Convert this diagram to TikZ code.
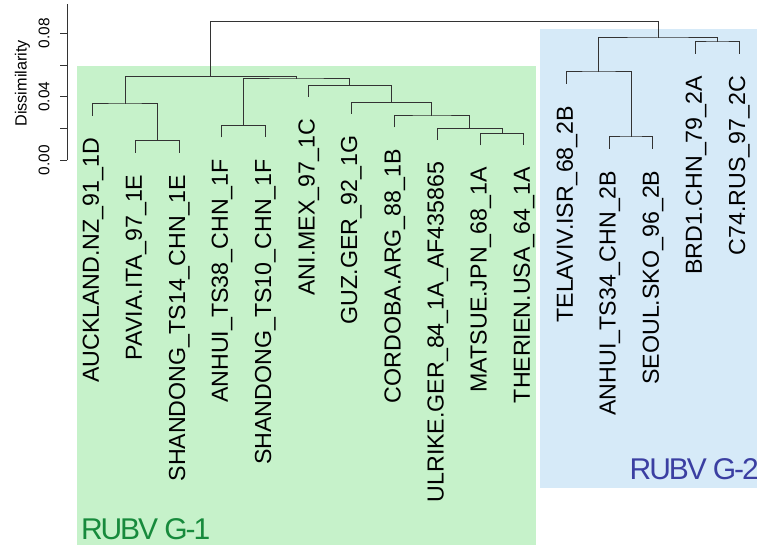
\documentclass[tikz,border=0pt]{standalone}
\usepackage{fontspec}
\setmainfont{Liberation Sans}
\usetikzlibrary{calc}
\definecolor{groupone}{HTML}{C6F2CA}
\definecolor{grouptwo}{HTML}{D6EAF8}
\definecolor{onetext}{HTML}{178A3C}
\definecolor{twotext}{HTML}{3B3FA2}

\begin{document}
\begin{tikzpicture}[x=0.5pt, y=-0.5pt,
  branch/.style={draw=black!80, line width=0.5pt},
  leaflabel/.style={rotate=90, anchor=east, inner sep=0pt,
    font=\fontsize{11.6}{13}\selectfont, text height=8.35pt, text depth=2.44pt},
  axislabel/.style={rotate=90, anchor=base, inner sep=0pt,
    font=\fontsize{7.7}{9}\selectfont},
  grouplabel/.style={anchor=base west, inner sep=0pt,
    font=\fontsize{15}{17}\selectfont\addfontfeature{LetterSpace=-7}}]
  \clip (0,0) rectangle (757,545);
  % group boxes
  \fill[groupone] (77,66) rectangle (536,545);
  \fill[grouptwo] (540,29) rectangle (757,488);
  % axis
  \draw[branch] (67,160.3) -- (67,4);
  \foreach \v in {0,...,4}
    \draw[branch] (67,160.3-31.75*\v) -- (60,160.3-31.75*\v);
  \foreach \v/\t in {0/0.00,2/0.04,4/0.08}
    \node[axislabel] (tick\v) at (49.3,160.3-31.75*\v) {\t};
  \node[axislabel, font=\fontsize{8.1}{9}\selectfont] (ylab) at (26.5,83.3) {Dissimilarity};
  % leaves
  \foreach \i/\x/\e/\t in {
      1/92.7/116/AUCKLAND.NZ\_91\_1D,
      2/135.7/152.7/PAVIA.ITA\_97\_1E,
      3/179/152.7/SHANDONG\_TS14\_CHN\_1E,
      4/221.7/137.3/ANHUI\_TS38\_CHN\_1F,
      5/265/137.3/SHANDONG\_TS10\_CHN\_1F,
      6/308.3/97/ANI.MEX\_97\_1C,
      7/351/114/GUZ.GER\_92\_1G,
      8/394.3/127.3/CORDOBA.ARG\_88\_1B,
      9/437.3/140/ULRIKE.GER\_84\_1A\_AF435865,
      10/480.3/145.3/MATSUE.JPN\_68\_1A,
      11/523.7/145.3/THERIEN.USA\_64\_1A,
      12/566.7/84/TELAVIV.ISR\_68\_2B,
      13/609.3/148.7/ANHUI\_TS34\_CHN\_2B,
      14/652.7/148.7/SEOUL.SKO\_96\_2B,
      15/695.7/54/BRD1.CHN\_79\_2A,
      16/739/54/C74.RUS\_97\_2C}
  {
    \coordinate (l\i) at (\x,\e);
    \node[leaflabel] (t\i) at (\x+0.3,\e+21.5) {\t};
  }
  % merges, bottom up
  \foreach \m/\a/\b/\h in {
      m23/l2/l3/140.7, m1/l1/m23/104,
      m45/l4/l5/125.7,
      m1011/l10/l11/133.7, m9/l9/m1011/128.3, m8/l8/m9/116,
      m7/l7/m8/102.3, m6/l6/m7/85.3, m4/m45/m6/79,
      mg1/m1/m4/76.3,
      m1314/l13/l14/137, m12/l12/m1314/72,
      m1516/l15/l16/42, mg2/m12/m1516/38,
      root/mg1/mg2/21.7}
  {
    \path ($(\a)!.5!(\b)$) coordinate (c\m);
    \coordinate (\m) at (c\m |- 0,\h);
    \draw[branch] (\a) |- (\m) -| (\b);
  }
  % group names
  \node[grouplabel, text=onetext] (gone) at (80.7,539.3) {RUBV G-1};
  \node[grouplabel, text=twotext] (gtwo) at (629.3,479.3) {RUBV G-2};
\end{tikzpicture}
\end{document}
